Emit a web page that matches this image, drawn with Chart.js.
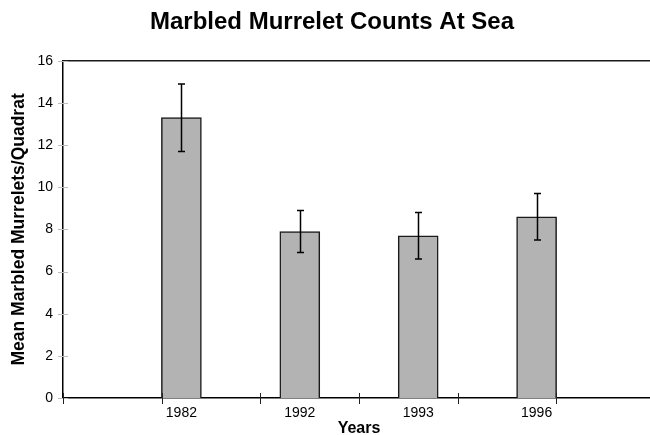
<!DOCTYPE html>
<html>
<head>
<meta charset="utf-8">
<script src="https://cdn.jsdelivr.net/npm/chart.js@4/dist/chart.umd.min.js"></script>
<style>
  html, body { margin: 0; padding: 0; background: #fff; overflow: hidden; }
  #wrap { position: relative; width: 662px; height: 435px; }
</style>
</head>
<body>
<div id="wrap"><canvas id="c"></canvas></div>
<script>
// ---- data ----
const categories = ['1982', '1992', '1993', '1996'];
const meanCounts = [13.3, 7.9, 7.7, 8.6];
const errorHigh = [14.9, 8.9, 8.8, 9.7];
const errorLow = [11.7, 6.9, 6.6, 7.5];
const yTicks = [0, 2, 4, 6, 8, 10, 12, 14, 16];
const xDividerCount = 6;

// padded labels so the category axis (offset:false) leaves empty ends
const labels = [''].concat(categories, ['']);
const barData = [null].concat(meanCounts, [null]);
const hiData = [null].concat(errorHigh, [null]);
const loData = [null].concat(errorLow, [null]);

const FONT = '"Liberation Sans", Arial, Helvetica, sans-serif';

const decor = {
  id: 'decor',
  afterDatasetsDraw(chart) {
    const ctx = chart.ctx;
    const a = chart.chartArea;
    const y = chart.scales.y;
    const x2 = chart.scales.x2;
    ctx.save();
    // top border
    ctx.strokeStyle = '#1a1a1a';
    ctx.lineWidth = 1.5;
    ctx.beginPath();
    ctx.moveTo(a.left, a.top);
    ctx.lineTo(a.right, a.top);
    ctx.stroke();
    // faint y tick marks
    ctx.strokeStyle = '#bdbdbd';
    ctx.lineWidth = 1;
    yTicks.forEach(v => {
      const py = Math.round(y.getPixelForValue(v)) + 0.5;
      ctx.beginPath();
      ctx.moveTo(a.left - 5, py);
      ctx.lineTo(a.left + 5, py);
      ctx.stroke();
    });
    // x divider tick marks
    ctx.strokeStyle = '#222';
    ctx.lineWidth = 1;
    for (let k = 0; k <= xDividerCount; k++) {
      const px = Math.round(x2.getPixelForValue(k)) + 0.5;
      ctx.beginPath();
      ctx.moveTo(px, a.bottom - 5);
      ctx.lineTo(px, a.bottom + 6);
      ctx.stroke();
    }
    // error bars
    const meta = chart.getDatasetMeta(0);
    ctx.strokeStyle = '#000';
    ctx.lineWidth = 1.5;
    meta.data.forEach((bar, i) => {
      if (hiData[i] == null) return;
      const px = Math.round(bar.x) + 0.5;
      const yh = y.getPixelForValue(hiData[i]);
      const yl = y.getPixelForValue(loData[i]);
      ctx.beginPath();
      ctx.moveTo(px, yh); ctx.lineTo(px, yl);
      ctx.moveTo(px - 3.5, yh); ctx.lineTo(px + 3.5, yh);
      ctx.moveTo(px - 3.5, yl); ctx.lineTo(px + 3.5, yl);
      ctx.stroke();
    });
    ctx.restore();
  }
};

new Chart(document.getElementById('c'), {
  type: 'bar',
  data: {
    labels: labels,
    datasets: [{
      data: barData,
      backgroundColor: '#b3b3b3',
      borderColor: '#1a1a1a',
      borderWidth: 1.5,
      barThickness: 40
    }]
  },
  options: {
    responsive: true,
    maintainAspectRatio: false,
    animation: false,
    layout: { padding: { left: 2, right: 0, top: 0, bottom: 0 } },
    plugins: {
      legend: { display: false },
      tooltip: { enabled: false },
      title: {
        display: true,
        text: 'Marbled Murrelet Counts At Sea',
        color: '#000',
        font: { family: FONT, size: 24, weight: 'bold', lineHeight: 1.2 },
        padding: { top: 8, bottom: 24 }
      }
    },
    scales: {
      x: {
        type: 'category',
        offset: false,
        afterFit: s => { s.height = 37; },
        grid: { display: false, drawTicks: false, tickLength: 0 },
        border: { display: true, color: '#000', width: 1.5 },
        ticks: {
          color: '#000',
          font: { family: FONT, size: 14, lineHeight: 1.1 },
          padding: 7,
          maxRotation: 0,
          autoSkip: false
        },
        title: {
          display: true,
          text: 'Years',
          color: '#000',
          font: { family: FONT, size: 16, weight: 'bold', lineHeight: 0.8 },
          padding: { top: 0, bottom: 0 }
        }
      },
      x2: {
        type: 'linear',
        position: 'top',
        display: true,
        offset: false,
        min: 0,
        max: xDividerCount,
        grid: { display: false, drawTicks: false, tickLength: 0, offset: false },
        border: { display: false },
        ticks: { display: false }
      },
      y: {
        min: 0,
        max: 16,
        afterFit: s => { s.width = 61; },
        grid: { display: false, drawTicks: false, tickLength: 0 },
        border: { display: true, color: '#000', width: 1.5 },
        ticks: {
          stepSize: 2,
          color: '#000',
          font: { family: FONT, size: 14 },
          padding: 10
        },
        title: {
          display: true,
          text: 'Mean Marbled Murrelets/Quadrat',
          color: '#000',
          font: { family: FONT, size: 17.5, weight: 'bold', lineHeight: 1 },
          padding: { top: 8, bottom: 0 }
        }
      }
    }
  },
  plugins: [decor]
});
</script>
</body>
</html>
